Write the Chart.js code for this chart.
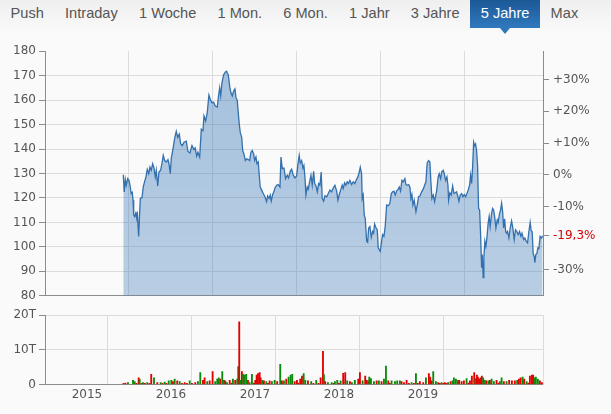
<!DOCTYPE html>
<html><head><meta charset="utf-8">
<script src="https://cdn.jsdelivr.net/npm/chart.js@4.4.0/dist/chart.umd.min.js"></script>
<style>
html,body{margin:0;padding:0;background:#fafafa;width:611px;height:414px;overflow:hidden;}
#tabs{position:absolute;left:0;top:0;width:611px;height:34px;background:linear-gradient(#efefef,#fafafa);font-family:"Liberation Sans",Arial,sans-serif;font-size:14.6px;color:#555;display:flex;}
#tabs span{display:block;position:relative;padding:0 10.6px;height:28px;line-height:27px;white-space:nowrap;}
#tabs span.sel{background:linear-gradient(#1b5896,#3179be);color:#fff;}
#tabs span.sel:after{content:"";position:absolute;left:50%;margin-left:-5px;top:28px;width:0;height:0;border-left:5px solid transparent;border-right:5px solid transparent;border-top:6px solid #2f77bc;}
#main{position:absolute;left:0;top:40px;width:611px;height:267px;}
#vol{position:absolute;left:0;top:300px;width:611px;height:114px;}
</style></head><body>
<div id="tabs"><span>Push</span><span>Intraday</span><span>1 Woche</span><span>1 Mon.</span><span>6 Mon.</span><span>1 Jahr</span><span>3 Jahre</span><span class="sel">5 Jahre</span><span>Max</span></div>
<div id="main"><canvas id="mc"></canvas></div>
<div id="vol"><canvas id="vc"></canvas></div>
<script>
const priceTimes=[
2015.932,2015.944,2015.956,2015.968,2015.985,2016.000,2016.015,2016.027,2016.039,2016.048,
2016.056,2016.068,2016.080,2016.092,2016.099,2016.115,2016.135,2016.155,2016.170,2016.187,
2016.202,2016.218,2016.235,2016.250,2016.265,2016.282,2016.298,2016.313,2016.325,2016.342,
2016.357,2016.377,2016.396,2016.408,2016.425,2016.444,2016.464,2016.476,2016.492,2016.504,
2016.524,2016.544,2016.563,2016.580,2016.599,2016.615,2016.635,2016.655,2016.682,2016.702,
2016.726,2016.750,2016.774,2016.789,2016.806,2016.821,2016.842,2016.861,2016.881,2016.893,
2016.913,2016.932,2016.952,2016.968,2016.988,2017.008,2017.027,2017.051,2017.068,2017.080,
2017.092,2017.107,2017.127,2017.146,2017.163,2017.170,2017.182,2017.202,2017.214,2017.230,
2017.246,2017.262,2017.274,2017.289,2017.301,2017.313,2017.325,2017.342,2017.354,2017.369,
2017.385,2017.401,2017.420,2017.437,2017.452,2017.468,2017.485,2017.496,2017.512,2017.524,
2017.539,2017.551,2017.563,2017.580,2017.599,2017.619,2017.639,2017.651,2017.667,2017.682,
2017.694,2017.711,2017.726,2017.738,2017.758,2017.777,2017.798,2017.810,2017.825,2017.845,
2017.865,2017.885,2017.901,2017.920,2017.937,2017.956,2017.976,2017.996,2018.015,2018.027,
2018.039,2018.056,2018.071,2018.083,2018.095,2018.107,2018.123,2018.135,2018.151,2018.167,
2018.182,2018.199,2018.211,2018.226,2018.242,2018.258,2018.274,2018.289,2018.301,2018.318,
2018.333,2018.354,2018.373,2018.393,2018.413,2018.432,2018.452,2018.473,2018.488,2018.504,
2018.524,2018.539,2018.551,2018.568,2018.583,2018.599,2018.615,2018.631,2018.651,2018.670,
2018.690,2018.710,2018.726,2018.742,2018.754,2018.770,2018.777,2018.789,2018.801,2018.813,
2018.830,2018.842,2018.854,2018.869,2018.885,2018.901,2018.913,2018.925,2018.940,2018.956,
2018.968,2018.980,2018.992,2019.008,2019.020,2019.036,2019.051,2019.068,2019.087,2019.107,
2019.123,2019.139,2019.155,2019.170,2019.187,2019.206,2019.218,2019.234,2019.250,2019.265,
2019.286,2019.298,2019.313,2019.330,2019.345,2019.357,2019.369,2019.381,2019.396,2019.417,
2019.432,2019.449,2019.464,2019.485,2019.504,2019.520,2019.536,2019.551,2019.568,2019.583,
2019.595,2019.607,2019.623,2019.639,2019.663,2019.682,2019.694,2019.711,2019.723,2019.742,
2019.754,2019.770,2019.786,2019.798,2019.806,2019.821,2019.837,2019.854,2019.869,2019.885,
2019.901,2019.917,2019.929,2019.944,2019.961,2019.976,2019.992,2020.008,2020.024,2020.039,
2020.056,2020.068,2020.080,2020.092,2020.104,2020.115,2020.127,2020.139,2020.151,2020.163,
2020.175,2020.187,2020.199,2020.206,2020.218,2020.226,2020.238,2020.250,2020.262,2020.277,
2020.289,2020.301,2020.318,2020.330,2020.342,2020.357,2020.369,2020.385,2020.396,2020.413,
2020.425,2020.437,2020.449,2020.461,2020.473,2020.485,2020.496,2020.508,2020.524,2020.539,
2020.556,2020.571,2020.587,2020.603,2020.619,2020.635,2020.651,2020.667,2020.680,2020.699,
2020.714,2020.730,2020.746,2020.762,2020.777,2020.789,2020.801,2020.813,2020.825,2020.833,
2020.845,2020.857,2020.869,2020.881,2020.896,2020.913,2020.925];
const prices=[
129.5,122.5,127.6,125.2,127.9,127.2,124.5,121.8,122.3,119.1,
113.1,112.4,113.7,111.7,114.4,104.3,119.8,120.1,124.5,126.8,
128.6,131.7,129.9,132.6,131.3,134.0,132.2,128.6,131.3,124.9,
130.6,131.3,134.7,137.4,135.3,134.7,135.7,134.0,129.9,136.4,
140.0,144.4,147.2,144.8,146.1,142.1,141.4,142.8,143.2,139.0,
138.4,141.4,139.8,140.4,137.1,138.7,136.7,148.1,147.5,153.6,
151.5,154.9,162.1,160.3,158.9,159.2,157.6,157.2,162.1,165.0,
161.7,167.0,170.4,171.4,171.8,171.1,170.4,165.0,163.0,161.7,
163.7,164.6,161.0,160.0,154.9,150.2,146.8,144.8,139.4,138.0,
135.3,136.0,135.7,135.3,138.7,139.4,138.0,135.3,136.7,134.0,
134.7,129.3,124.5,123.2,121.8,120.5,118.5,120.8,119.8,121.2,
118.7,121.4,122.5,124.1,125.2,125.5,124.5,136.7,132.0,132.2,
127.9,129.3,128.2,130.9,131.7,129.3,128.2,129.0,134.7,137.4,
134.3,135.3,132.2,133.3,128.6,121.2,124.5,123.6,126.6,129.3,
125.2,130.9,125.9,125.0,122.5,125.9,125.2,130.6,119.8,118.7,
120.9,120.5,121.8,123.2,122.5,124.1,125.2,122.8,119.1,121.4,
123.6,125.2,123.9,126.2,125.2,126.6,125.9,127.2,125.5,126.6,
125.9,127.6,128.6,130.6,132.6,129.9,119.8,121.2,113.1,111.7,
102.3,101.9,107.7,108.3,103.9,106.3,105.6,109.3,107.9,107.0,
99.6,98.9,98.2,102.3,105.0,104.3,108.3,117.1,116.8,117.8,
121.8,122.5,122.8,121.2,122.8,123.6,124.5,122.8,127.2,126.6,
127.9,125.5,125.2,125.5,124.5,119.8,121.4,117.1,119.1,114.4,
117.1,120.5,120.8,122.5,123.6,125.2,126.6,134.3,135.3,134.7,
126.6,119.8,121.2,118.5,122.8,128.6,129.9,127.9,130.6,131.3,
130.0,127.2,128.6,125.2,119.1,122.1,121.2,124.9,121.8,122.1,
122.5,120.5,118.7,121.2,121.8,120.5,121.4,120.5,121.8,123.2,
125.2,129.3,125.9,132.6,142.8,141.4,142.1,139.4,133.3,115.7,
115.1,105.0,91.5,96.9,87.4,95.5,102.3,100.2,103.6,109.7,
112.4,108.3,113.7,115.7,115.1,111.7,107.7,111.0,110.0,113.7,
115.1,117.8,114.4,107.7,111.5,106.3,105.6,106.3,103.6,107.7,
110.6,107.7,103.0,107.0,106.3,105.0,106.3,104.3,105.6,103.0,
103.6,102.3,101.6,106.3,110.0,106.6,106.3,97.1,96.2,93.5,
96.9,97.2,99.6,99.3,104.3,103.6,104.5];
const priceTicks=[80,90,100,110,120,130,140,150,160,170,180];
const pctTicks=[30,20,10,0,-10,-30];
const yearGrid=[2016,2017,2018,2019,2020];
const yearLabels=['2015','2016','2017','2018','2019'];
const xMin=2015, xMax=2020.93;
const volTimes=[
2015.935,2015.958,2015.988,2016.048,2016.068,2016.089,2016.115,2016.127,2016.149,2016.167,
2016.190,2016.218,2016.244,2016.265,2016.298,2016.337,2016.377,2016.399,2016.425,2016.446,
2016.473,2016.504,2016.524,2016.544,2016.575,2016.604,2016.631,2016.663,2016.690,2016.723,
2016.750,2016.789,2016.821,2016.849,2016.881,2016.901,2016.932,2016.961,2016.996,2017.027,
2017.051,2017.068,2017.087,2017.111,2017.131,2017.146,2017.167,2017.199,2017.220,2017.238,
2017.265,2017.289,2017.301,2017.313,2017.325,2017.345,2017.361,2017.377,2017.396,2017.417,
2017.437,2017.464,2017.488,2017.504,2017.520,2017.536,2017.556,2017.568,2017.587,2017.607,
2017.635,2017.655,2017.675,2017.702,2017.735,2017.765,2017.801,2017.821,2017.845,2017.873,
2017.901,2017.925,2017.944,2017.973,2018.000,2018.018,2018.039,2018.060,2018.080,2018.099,
2018.131,2018.170,2018.196,2018.230,2018.256,2018.282,2018.310,2018.321,2018.337,2018.369,
2018.413,2018.435,2018.452,2018.480,2018.500,2018.520,2018.551,2018.575,2018.599,2018.631,
2018.655,2018.690,2018.730,2018.750,2018.782,2018.813,2018.830,2018.849,2018.861,2018.881,
2018.917,2018.949,2018.976,2019.008,2019.036,2019.060,2019.087,2019.107,2019.127,2019.167,
2019.194,2019.226,2019.246,2019.274,2019.306,2019.333,2019.365,2019.393,2019.417,2019.440,
2019.464,2019.504,2019.536,2019.571,2019.587,2019.604,2019.623,2019.655,2019.682,2019.702,
2019.723,2019.744,2019.762,2019.786,2019.801,2019.830,2019.854,2019.869,2019.893,2019.917,
2019.932,2019.961,2019.988,2020.020,2020.042,2020.060,2020.083,2020.111,2020.127,2020.143,
2020.155,2020.170,2020.187,2020.202,2020.218,2020.238,2020.258,2020.282,2020.298,2020.318,
2020.345,2020.377,2020.399,2020.417,2020.437,2020.464,2020.496,2020.527,2020.560,2020.595,
2020.623,2020.643,2020.663,2020.687,2020.706,2020.735,2020.756,2020.774,2020.798,2020.813,
2020.830,2020.845,2020.869,2020.893,2020.917];
const volValues=[
0.3,0.4,0.5,1.2,0.8,0.3,1.9,1.5,0.3,0.5,
0.3,0.5,0.3,2.9,1.9,0.5,0.5,0.3,0.7,0.3,
1.0,1.2,0.8,1.5,1.0,0.8,0.3,0.5,0.3,1.0,
0.3,0.5,0.8,3.4,1.2,1.9,0.8,1.0,3.7,0.8,
1.5,1.9,1.5,3.7,1.2,1.0,0.5,1.2,0.4,1.5,
1.2,1.5,5.1,18.0,1.2,3.7,2.9,2.7,2.9,1.2,
0.5,2.9,0.4,1.2,2.7,3.1,3.4,1.9,1.2,1.0,
0.8,0.3,1.0,0.8,1.2,0.8,5.8,1.0,1.0,1.5,
2.1,2.7,2.9,0.8,1.2,0.4,1.5,2.4,3.1,1.2,
1.0,0.8,0.3,1.2,0.3,1.9,9.5,2.8,0.8,0.5,
0.5,0.3,0.8,1.2,0.3,1.0,3.2,3.4,1.0,0.8,
0.5,1.2,1.5,3.4,1.0,2.4,1.2,1.0,2.1,1.7,
0.8,1.0,1.0,0.8,1.5,5.3,1.0,0.3,1.0,0.8,
1.0,1.0,0.8,0.5,1.2,0.3,0.5,0.3,3.1,0.3,
0.8,0.5,1.9,3.1,2.1,1.0,3.7,0.8,0.5,0.3,
0.5,0.3,0.5,0.3,0.5,0.8,1.0,1.9,1.5,1.2,
1.2,0.8,1.0,1.7,0.4,1.0,2.4,3.4,1.7,2.7,
2.1,1.5,1.9,2.4,1.9,1.2,1.0,1.0,1.2,1.5,
0.8,1.2,0.4,0.8,1.9,0.8,0.8,1.2,1.0,1.0,
1.2,1.5,1.9,2.1,1.5,0.8,0.4,2.4,2.7,2.7,
1.9,2.1,1.5,1.0,0.5];
const volDir=[
'r','r','g','g','g','r','r','g','r','g',
'r','g','r','r','g','r','g','r','g','r',
'g','g','r','g','r','g','r','r','r','g',
'r','r','g','g','r','r','g','r','r','g',
'g','g','r','g','g','r','g','r','r','g',
'r','g','g','r','g','r','g','g','g','r',
'g','g','r','r','r','r','r','r','g','r',
'g','r','r','g','g','r','g','r','g','r',
'g','g','g','r','r','r','r','r','g','g',
'r','g','r','g','r','r','r','g','r','g',
'g','r','g','g','r','g','r','r','g','r',
'g','g','r','r','g','r','r','r','g','g',
'g','r','g','r','g','g','r','r','g','g',
'g','g','r','r','r','r','g','r','g','r',
'r','r','g','r','r','r','g','g','r','r',
'g','r','r','r','g','r','g','g','g','g',
'r','r','r','g','r','r','r','r','g','r',
'r','r','r','r','g','g','r','g','r','g',
'g','r','r','g','g','r','g','r','r','r',
'g','r','r','g','r','g','r','r','r','r',
'g','g','g','r','r'];
const volTicks=[0,10,20];

if(priceTimes.length!==prices.length) throw new Error('price len '+priceTimes.length+' vs '+prices.length);
if(volTimes.length!==volValues.length||volTimes.length!==volDir.length) throw new Error('vol len '+volTimes.length+' '+volValues.length+' '+volDir.length);

const FONT={family:'"DejaVu Sans", Verdana, sans-serif',size:12};
const LBL='#555';
const AXIS='#8c8c8c';
const GRID='#dcdcdc';
const base=prices[0], last=prices[prices.length-1];
const curPct=(last/base-1)*100;
function fmtPct(v){
  const r=Math.round(v*10)/10;
  const s=(Math.abs(r%1)>1e-9)?r.toFixed(1).replace('.',','):String(Math.round(r));
  return (r>0?'+':'')+s+'%';
}

new Chart(document.getElementById('mc'),{
  type:'line',
  data:{datasets:[{
    data:priceTimes.map((t,i)=>({x:t,y:prices[i]})),
    borderColor:'#3370ad',borderWidth:1.3,pointRadius:0,tension:0,
    fill:'start',
    backgroundColor:(ctx)=>{const a=ctx.chart.chartArea;if(!a)return 'rgba(51,116,182,0.4)';
      const g=ctx.chart.ctx.createLinearGradient(0,a.top,0,a.bottom);
      g.addColorStop(0,'rgba(51,116,182,0.43)');g.addColorStop(1,'rgba(51,116,182,0.33)');return g;}
  }]},
  options:{
    responsive:true,maintainAspectRatio:false,animation:false,
    layout:{padding:{top:6.5,bottom:8,left:0,right:0}},
    plugins:{legend:{display:false},tooltip:{enabled:false}},
    scales:{
      x:{type:'linear',min:xMin,max:xMax,
        afterBuildTicks:s=>{s.ticks=yearGrid.map(v=>({value:v}));},
        ticks:{display:false},
        grid:{color:GRID,drawTicks:false},
        border:{color:AXIS},
        afterFit:s=>{s.height=0;}},
      y:{type:'linear',position:'left',min:priceTicks[0],max:priceTicks[priceTicks.length-1],
        afterBuildTicks:s=>{s.ticks=priceTicks.map(v=>({value:v}));},
        ticks:{color:LBL,font:FONT,padding:3},
        grid:{color:c=>(c.tick&&c.tick.value===priceTicks[priceTicks.length-1])?'rgba(0,0,0,0)':GRID,tickColor:AXIS,tickLength:6},
        border:{color:AXIS},
        afterFit:s=>{s.width=45;}},
      y2:{type:'linear',position:'right',
        min:(priceTicks[0]/base-1)*100,max:(priceTicks[priceTicks.length-1]/base-1)*100,
        afterBuildTicks:s=>{s.ticks=pctTicks.concat([curPct]).map(v=>({value:v}));},
        ticks:{color:c=>(c.tick&&Math.abs(c.tick.value-curPct)<1e-9)?'#d40000':LBL,font:FONT,padding:4,
          callback:v=>fmtPct(v)},
        grid:{drawOnChartArea:false,tickColor:AXIS,tickLength:6},
        border:{color:AXIS},
        afterFit:s=>{s.width=68;}}
    }
  }
});

const labelPos=yearLabels.map(l=>Number(l)+0.5);
new Chart(document.getElementById('vc'),{
  type:'bar',
  data:{datasets:[{
    data:volTimes.map((t,i)=>({x:t,y:volValues[i]})),
    backgroundColor:volDir.map(d=>d==='g'?'#0b8b0b':'#e20000'),
    barThickness:1.2,borderWidth:0
  }]},
  options:{
    responsive:true,maintainAspectRatio:false,animation:false,
    layout:{padding:{top:15,bottom:11.6,left:0,right:0}},
    plugins:{legend:{display:false},tooltip:{enabled:false}},
    scales:{
      x:{type:'linear',min:xMin,max:xMax,offset:false,
        afterBuildTicks:s=>{s.ticks=yearGrid.concat(labelPos).sort((a,b)=>a-b).map(v=>({value:v}));},
        ticks:{color:LBL,font:FONT,padding:3,autoSkip:false,maxRotation:0,
          callback:v=>{const i=labelPos.findIndex(p=>Math.abs(p-v)<1e-6);return i>=0?yearLabels[i]:'';}},
        grid:{color:c=>(c.tick&&Number.isInteger(c.tick.value))?GRID:'rgba(0,0,0,0)',drawTicks:false},
        border:{color:AXIS},
        afterFit:s=>{s.height=18;}},
      y:{type:'linear',position:'left',min:volTicks[0],max:volTicks[volTicks.length-1],
        afterBuildTicks:s=>{s.ticks=volTicks.map(v=>({value:v}));},
        ticks:{color:LBL,font:FONT,padding:3,callback:v=>v===0?'0':v+'T'},
        grid:{color:GRID,tickColor:AXIS,tickLength:6},
        border:{color:AXIS},
        afterFit:s=>{s.width=45;}},
      yr:{type:'linear',position:'right',
        ticks:{display:false},
        grid:{drawOnChartArea:false,drawTicks:false},
        border:{color:GRID},
        afterFit:s=>{s.width=68;}}
    }
  }
});
</script>
</body></html>
